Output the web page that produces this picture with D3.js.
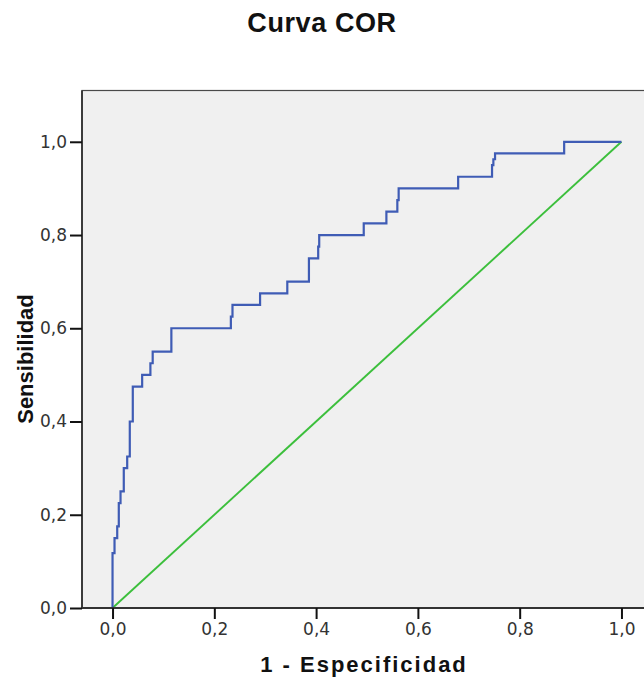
<!DOCTYPE html>
<html>
<head>
<meta charset="utf-8">
<script src="https://cdn.jsdelivr.net/npm/d3@7"></script>
<style>
  html, body { margin: 0; padding: 0; background: #ffffff; }
  svg { display: block; }
</style>
</head>
<body>
<svg id="chart" width="644" height="679"></svg>
<script>
// ROC curve vertices: each point is the top of a vertical step (1 - specificity, sensitivity)
const fpr = [0, 0, 0.0039, 0.0092, 0.0123, 0.0157, 0.0221, 0.0288, 0.0339, 0.0398, 0.0582,
             0.0744, 0.0789, 0.1156, 0.2325, 0.2357, 0.2899, 0.3434, 0.3859, 0.4041, 0.4061,
             0.4936, 0.5381, 0.5596, 0.5622, 0.6791, 0.7457, 0.7483, 0.7516, 0.8874, 1.0];
const tpr = [0, 0.1175, 0.15, 0.175, 0.225, 0.25, 0.30, 0.325, 0.40, 0.475, 0.50,
             0.525, 0.55, 0.60, 0.625, 0.65, 0.675, 0.70, 0.75, 0.775, 0.80,
             0.825, 0.85, 0.875, 0.90, 0.925, 0.95, 0.9625, 0.975, 1.0, 1.0];

// Reference diagonal
const refX = [0, 1];
const refY = [0, 1];

const tickValues = [0, 0.2, 0.4, 0.6, 0.8, 1.0];
const tickLabels = ["0,0", "0,2", "0,4", "0,6", "0,8", "1,0"];

const titleText = "Curva COR";
const xTitle = "1 - Especificidad";
const yTitle = "Sensibilidad";

const svg = d3.select("#chart");

const plot = { left: 82, right: 652, top: 90.5, bottom: 608 };

const x = d3.scaleLinear().domain([-0.06, 1.06]).range([plot.left, plot.right]);
const y = d3.scaleLinear().domain([0, 1.11]).range([plot.bottom, plot.top]);

// Title
svg.append("text")
  .attr("x", 322).attr("y", 32)
  .attr("text-anchor", "middle")
  .attr("font-family", "'Liberation Sans', Arial, sans-serif")
  .attr("font-weight", "bold")
  .attr("font-size", 27)
  .attr("letter-spacing", 0.6)
  .attr("fill", "#111")
  .text(titleText);

// Plot background and frame
svg.append("rect")
  .attr("x", plot.left).attr("y", plot.top)
  .attr("width", plot.right - plot.left).attr("height", plot.bottom - plot.top)
  .attr("fill", "#f0f0f0")
  .attr("stroke", "#4a4a4a")
  .attr("stroke-width", 1.2);

// Diagonal reference line
svg.append("path")
  .datum(refX.map((d, i) => [d, refY[i]]))
  .attr("fill", "none")
  .attr("stroke", "#3cbf3c")
  .attr("stroke-width", 1.9)
  .attr("d", d3.line().x(d => x(d[0])).y(d => y(d[1])));

// ROC step curve
svg.append("path")
  .datum(fpr.map((d, i) => [d, tpr[i]]))
  .attr("fill", "none")
  .attr("stroke", "#3f5cb5")
  .attr("stroke-width", 2.2)
  .attr("d", d3.line().x(d => x(d[0])).y(d => y(d[1])).curve(d3.curveStepAfter));

// Axes
const tickFont = "'DejaVu Sans', Verdana, sans-serif";

const xAxis = svg.append("g")
  .attr("transform", `translate(0,${plot.bottom})`)
  .call(d3.axisBottom(x).tickValues(tickValues).tickFormat((d, i) => tickLabels[i])
    .tickSize(11).tickSizeOuter(0).tickPadding(4));

const yAxis = svg.append("g")
  .attr("transform", `translate(${plot.left},0)`)
  .call(d3.axisLeft(y).tickValues(tickValues).tickFormat((d, i) => tickLabels[i])
    .tickSize(12).tickSizeOuter(0).tickPadding(3));

[xAxis, yAxis].forEach(g => {
  g.select(".domain").attr("stroke", "#333").attr("stroke-width", 1.8);
  g.selectAll(".tick line").attr("stroke", "#111").attr("stroke-width", 2);
  g.selectAll(".tick text")
    .attr("font-family", tickFont)
    .attr("font-size", 17)
    .attr("fill", "#333");
});
xAxis.select(".domain").attr("d", `M${plot.left},0H${plot.right}`);
yAxis.select(".domain").attr("d", `M0,${plot.top}V${plot.bottom}`);

// Axis titles
svg.append("text")
  .attr("x", 364).attr("y", 672)
  .attr("text-anchor", "middle")
  .attr("font-family", "'Liberation Sans', Arial, sans-serif")
  .attr("font-weight", "bold")
  .attr("font-size", 22)
  .attr("letter-spacing", 2)
  .attr("fill", "#111")
  .text(xTitle);

svg.append("text")
  .attr("transform", "translate(33,359) rotate(-90)")
  .attr("text-anchor", "middle")
  .attr("font-family", "'Liberation Sans', Arial, sans-serif")
  .attr("font-weight", "bold")
  .attr("font-size", 22)
  .attr("fill", "#111")
  .text(yTitle);
</script>
</body>
</html>
